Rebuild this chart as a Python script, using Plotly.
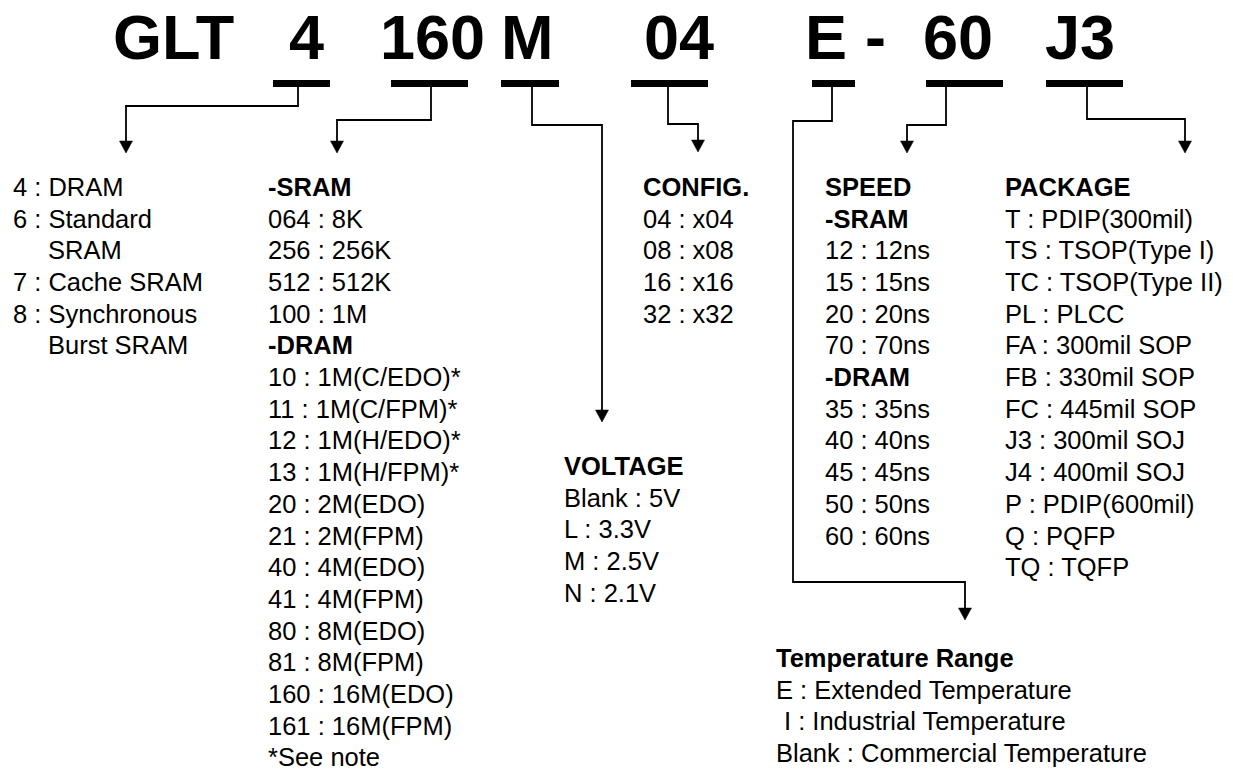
import plotly.graph_objects as go

# ---------------- data ----------------
part_tokens = ["GLT", "4", "160", "M", "04", "E", "-", "60", "J3"]

prefix_items = ["4 : DRAM", "6 : Standard", "SRAM", "7 : Cache SRAM",
                "8 : Synchronous", "Burst SRAM"]
density_items = ["-SRAM", "064 : 8K", "256 : 256K", "512 : 512K", "100 : 1M",
                 "-DRAM", "10 : 1M(C/EDO)*", "11 : 1M(C/FPM)*", "12 : 1M(H/EDO)*",
                 "13 : 1M(H/FPM)*", "20 : 2M(EDO)", "21 : 2M(FPM)", "40 : 4M(EDO)",
                 "41 : 4M(FPM)", "80 : 8M(EDO)", "81 : 8M(FPM)", "160 : 16M(EDO)",
                 "161 : 16M(FPM)", "*See note"]
config_items = ["CONFIG.", "04 : x04", "08 : x08", "16 : x16", "32 : x32"]
voltage_items = ["VOLTAGE", "Blank : 5V", "L : 3.3V", "M : 2.5V", "N : 2.1V"]
speed_items = ["SPEED", "-SRAM", "12 : 12ns", "15 : 15ns", "20 : 20ns", "70 : 70ns",
               "-DRAM", "35 : 35ns", "40 : 40ns", "45 : 45ns", "50 : 50ns", "60 : 60ns"]
package_items = ["PACKAGE", "T : PDIP(300mil)", "TS : TSOP(Type I)", "TC : TSOP(Type II)",
                 "PL : PLCC", "FA : 300mil SOP", "FB : 330mil SOP", "FC : 445mil SOP",
                 "J3 : 300mil SOJ", "J4 : 400mil SOJ", "P : PDIP(600mil)", "Q : PQFP",
                 "TQ : TQFP"]
temperature_items = ["Temperature Range", "E : Extended Temperature",
                     "I : Industrial Temperature", "Blank : Commercial Temperature"]

# ---------------- layout (positions / styles) ----------------
W, H = 1233, 776          # browser window
OFF = 8                   # default page body margin
FONT = "Liberation Sans, Arial, Helvetica, sans-serif"
FS = 25.5
TITLE_FS = 63
PITCH = 31.7

title_centers = [173, 306.5, 432.5, 527, 679, 825.5, 875, 957.5, 1079.5]
title_baseline = 60

bars = {  # token index -> (x0, x1)
    1: (273, 330), 2: (391, 468), 3: (501, 559), 4: (631, 708),
    5: (812, 855), 7: (926, 1003), 8: (1046, 1123),
}
BAR_Y = 83.5
BAR_W = 7

connectors = {  # token index -> polyline ending at arrow tip
    1: [(298, 87), (298, 106), (126, 106), (126, 153)],
    2: [(431, 87), (431, 120), (337, 120), (337, 153)],
    3: [(532, 87), (532, 125), (602, 125), (602, 422)],
    4: [(668, 87), (668, 124), (698, 124), (698, 152)],
    5: [(832, 87), (832, 121), (793, 121), (793, 582), (965, 582), (965, 620)],
    7: [(946, 87), (946, 125), (907, 125), (907, 153)],
    8: [(1087, 87), (1087, 119), (1185, 119), (1185, 153)],
}
HEAD_LEN = 12
HEAD_HALF = 6.5

columns = [
    # items, x, first baseline, bold header?, per-row x indent
    (prefix_items, 12, 196, False, {2: 35, 5: 35}),
    (density_items, 267, 196, False, {}),
    (config_items, 642, 196, True, {}),
    (voltage_items, 563, 475, True, {}),
    (speed_items, 824, 196, True, {}),
    (package_items, 1004, 196, True, {}),
    (temperature_items, 775, 667, True, {2: 8}),
]

fig = go.Figure()
fig.add_trace(go.Scatter(x=[OFF, W], y=[OFF, H], mode="markers",
                         marker=dict(opacity=0), hoverinfo="skip", showlegend=False))

annotations = []
# title tokens
for tok, cx in zip(part_tokens, title_centers):
    annotations.append(dict(
        x=cx, y=title_baseline - 0.36 * TITLE_FS, xref="x", yref="y",
        text=f"<b>{tok}</b>", showarrow=False, xanchor="center", yanchor="middle",
        font=dict(family=FONT, size=TITLE_FS, color="black")))

# text columns
for items, x, base, bold_header, indents in columns:
    for i, t in enumerate(items):
        bold = (i == 0 and bold_header) or t.startswith("-")
        txt = f"<b>{t}</b>" if bold else t
        annotations.append(dict(
            x=x + indents.get(i, 0), y=base + i * PITCH - 0.36 * FS,
            xref="x", yref="y", text=txt, showarrow=False,
            xanchor="left", yanchor="middle", borderpad=0,
            font=dict(family=FONT, size=FS, color="black")))

shapes = []
for idx, (x0, x1) in bars.items():
    shapes.append(dict(type="line", xref="x", yref="y", x0=x0, x1=x1, y0=BAR_Y, y1=BAR_Y,
                       line=dict(color="black", width=BAR_W)))

for idx, pts in connectors.items():
    tx, ty = pts[-1]
    body = pts[:-1] + [(tx, ty - HEAD_LEN)]
    path = "M " + " L ".join(f"{px},{py}" for px, py in body)
    shapes.append(dict(type="path", xref="x", yref="y", path=path,
                       line=dict(color="black", width=1.8)))
    head = (f"M {tx - HEAD_HALF},{ty - HEAD_LEN} L {tx + HEAD_HALF},{ty - HEAD_LEN} "
            f"L {tx},{ty} Z")
    shapes.append(dict(type="path", xref="x", yref="y", path=head,
                       fillcolor="black", line=dict(color="black", width=0.5)))

# small white slash across the top-left corner of the "E" in the reference
shapes.append(dict(type="line", xref="x", yref="y", x0=807, y0=21, x1=827, y1=13,
                   line=dict(color="white", width=1.2), layer="above"))

fig.update_layout(
    width=W - OFF, height=H - OFF, margin=dict(l=0, r=0, t=0, b=0),
    paper_bgcolor="white", plot_bgcolor="white", showlegend=False,
    xaxis=dict(range=[OFF, W], visible=False, fixedrange=True),
    yaxis=dict(range=[H, OFF], visible=False, fixedrange=True),
    annotations=annotations, shapes=shapes,
)

fig.write_html("out.html")
